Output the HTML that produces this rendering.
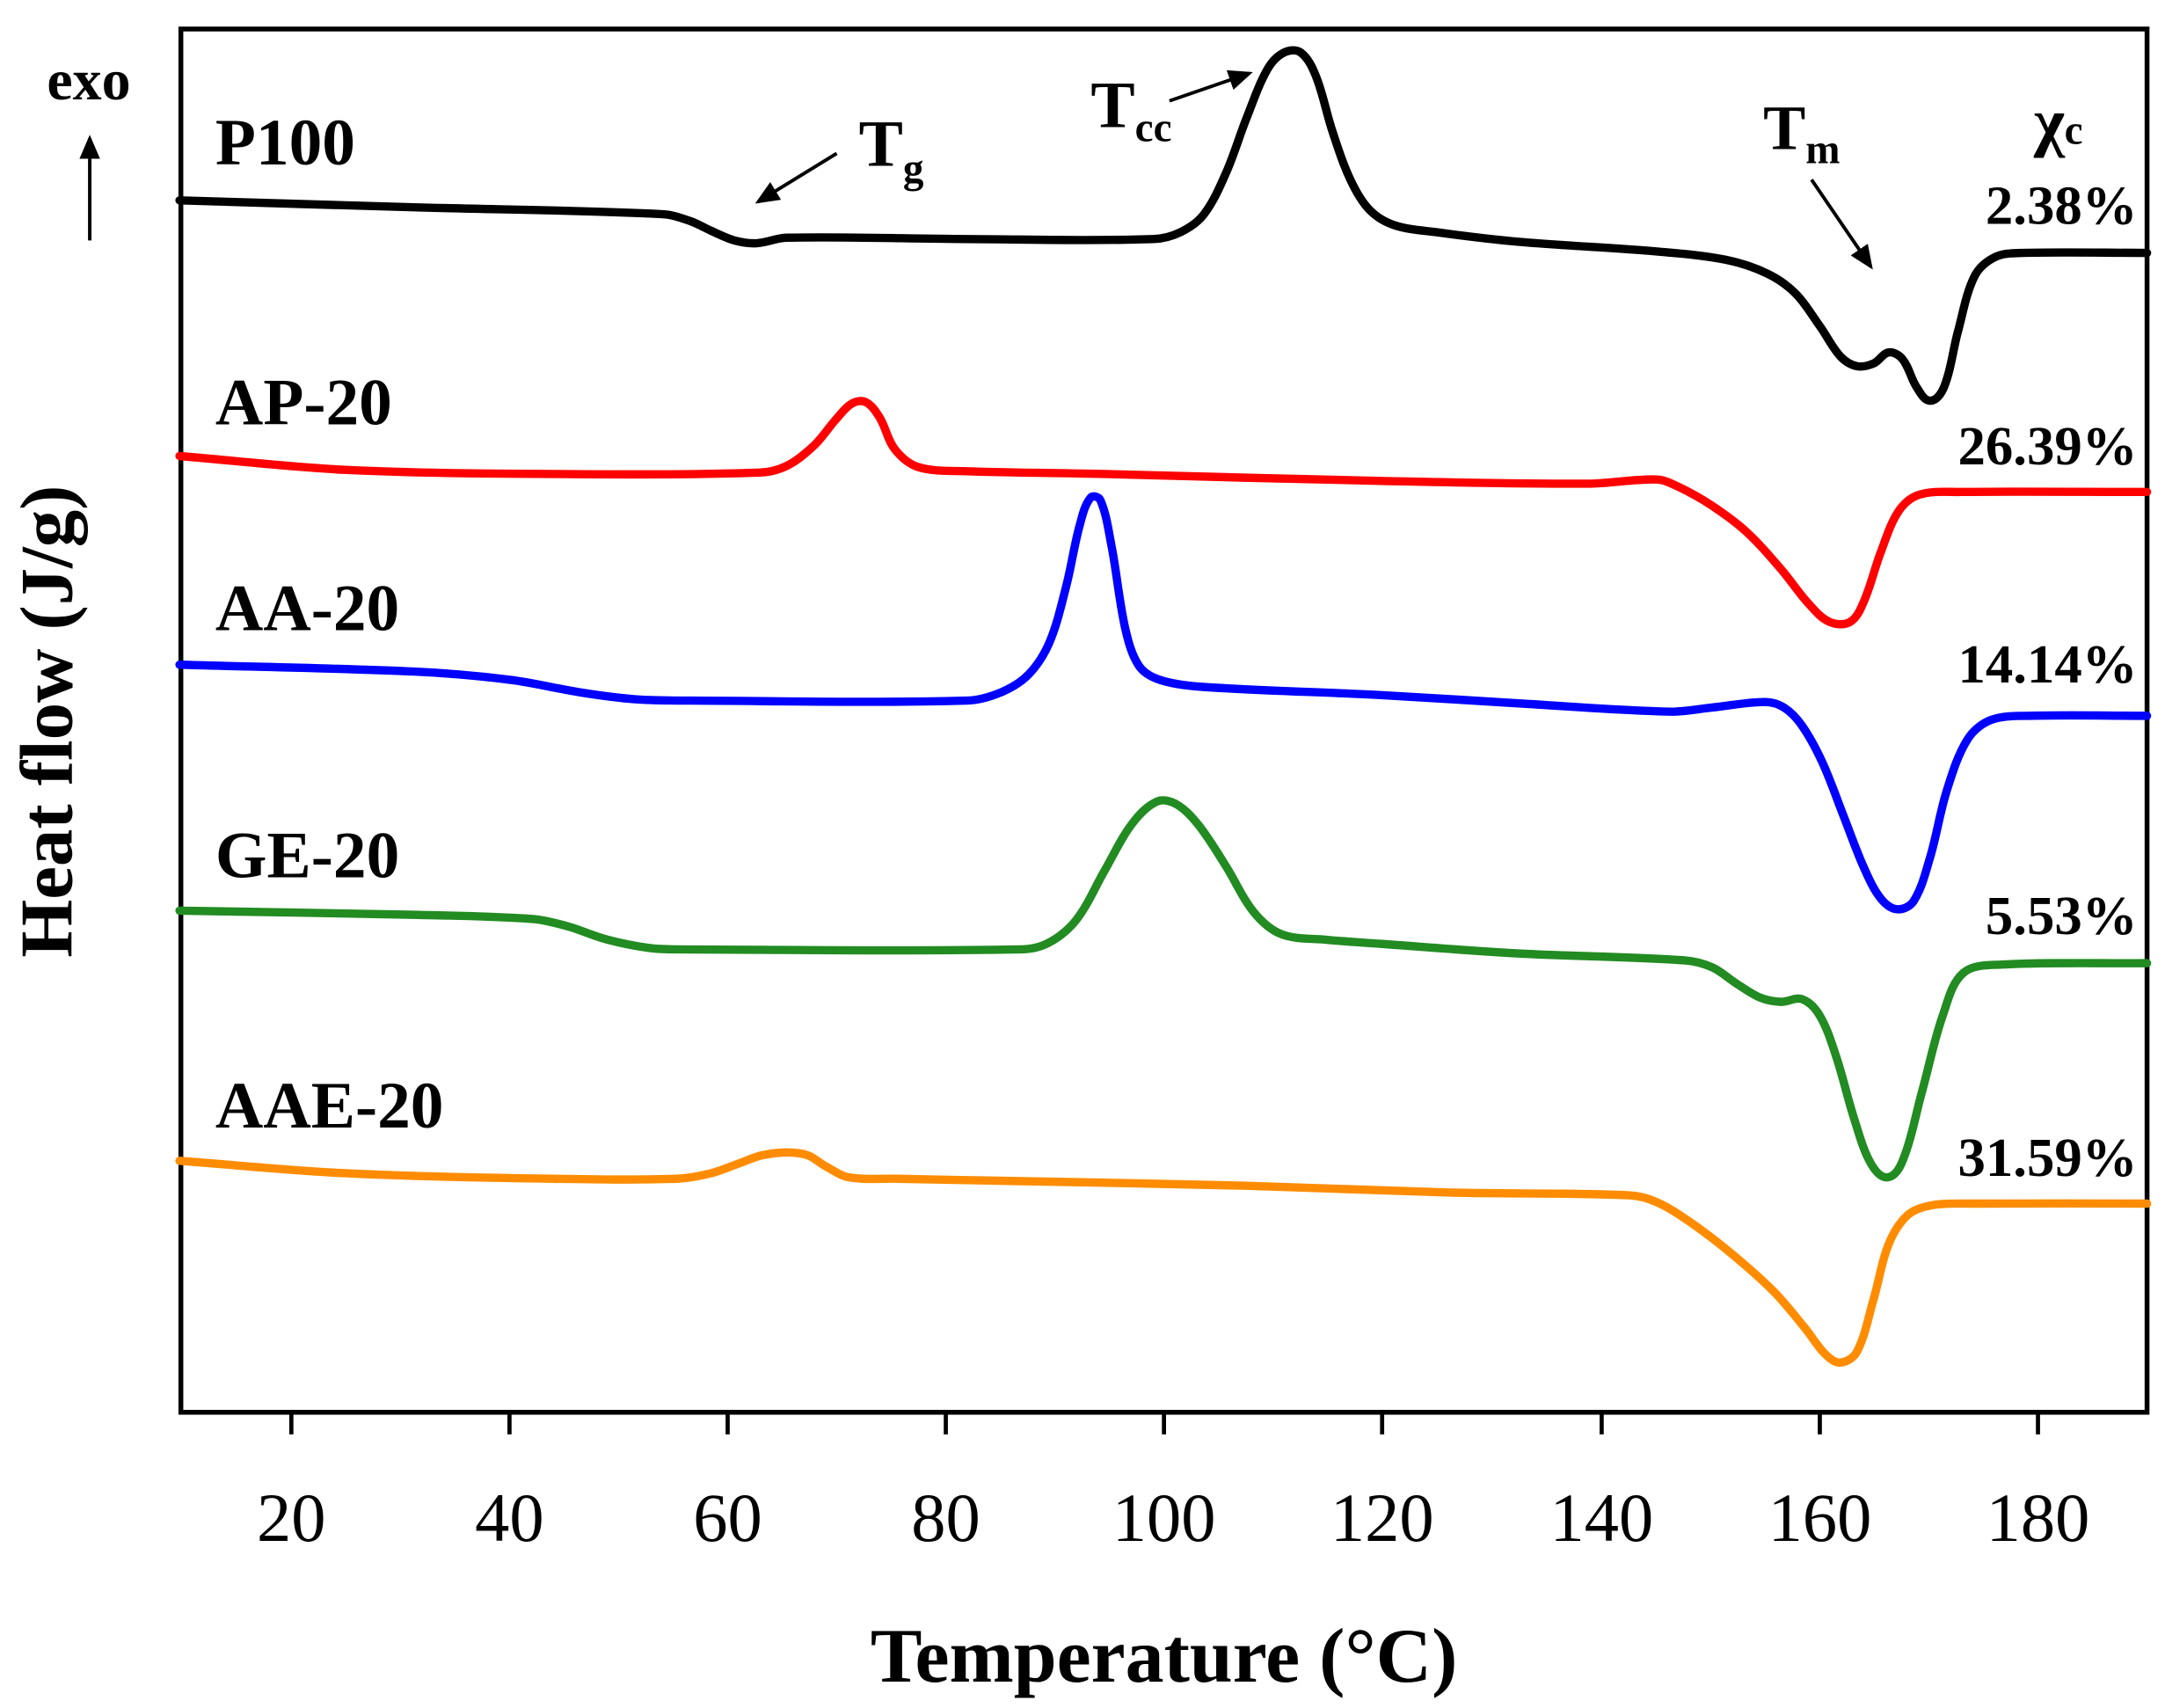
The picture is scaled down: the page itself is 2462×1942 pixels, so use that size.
<!DOCTYPE html>
<html><head><meta charset="utf-8"><style>html,body{margin:0;padding:0;background:#fff}svg{display:block}</style></head>
<body>
<svg id="s" width="2462" height="1942" viewBox="0 0 1568 1236" preserveAspectRatio="none" xmlns="http://www.w3.org/2000/svg" font-family="'Liberation Serif', serif">
<defs><marker id="ah" markerWidth="8" markerHeight="8" refX="6" refY="4" orient="auto" markerUnits="strokeWidth"><path d="M0,1 L7,4 L0,7 Z" fill="#000"/></marker></defs>
<rect x="131" y="21" width="1424" height="1001" fill="none" stroke="#000" stroke-width="3.5"/>
<g stroke="#000" stroke-width="3">
<line x1="211" y1="1022" x2="211" y2="1038"/><line x1="369" y1="1022" x2="369" y2="1038"/><line x1="527" y1="1022" x2="527" y2="1038"/><line x1="685" y1="1022" x2="685" y2="1038"/><line x1="843" y1="1022" x2="843" y2="1038"/><line x1="1001" y1="1022" x2="1001" y2="1038"/><line x1="1160" y1="1022" x2="1160" y2="1038"/><line x1="1318" y1="1022" x2="1318" y2="1038"/><line x1="1476" y1="1022" x2="1476" y2="1038"/>
</g>
<g font-size="50" text-anchor="middle">
<text x="211" y="1115">20</text><text x="369" y="1115">40</text><text x="527" y="1115">60</text><text x="685" y="1115">80</text><text x="843" y="1115">100</text><text x="1001" y="1115">120</text><text x="1160" y="1115">140</text><text x="1318" y="1115">160</text><text x="1476" y="1115">180</text>
</g>
<text x="843" y="1217" font-size="56" font-weight="bold" text-anchor="middle">Temperature (°C)</text>
<text transform="translate(52,522) rotate(-90)" font-size="54" font-weight="bold" text-anchor="middle">Heat flow (J/g)</text>
<g fill="none" stroke-width="6" stroke-linejoin="round" stroke-linecap="round">
<polyline class="c" stroke="#000" points="130,145 300,150 480,155 500,160 515,167 532,174 548,176 570,172 700,173 835,173 855,168 872,155 888,125 903,85 918,50 930,38 942,38 953,55 965,95 978,130 992,152 1010,163 1040,168 1100,175 1200,182 1250,188 1280,198 1300,212 1318,236 1333,258 1345,265 1357,263 1368,255 1378,260 1388,280 1398,290 1408,280 1418,240 1430,200 1445,186 1465,183 1555,183"/>
<polyline class="c" stroke="#ff0000" points="130,330 250,340 400,343 550,342 570,337 590,322 605,304 617,292 627,291 637,302 648,325 665,338 700,341 800,343 1000,348 1150,350 1200,347 1215,352 1240,366 1265,385 1290,412 1310,437 1325,450 1340,450 1350,435 1362,400 1375,370 1390,358 1420,356 1555,356"/>
<polyline class="c" stroke="#0000ff" points="130,481 300,486 370,492 420,501 460,506 500,507 700,507 725,501 745,488 760,465 772,425 782,380 790,360 797,362 805,395 815,455 825,482 840,492 870,497 1000,503 1100,509 1210,515 1240,512 1278,508 1292,512 1305,525 1320,552 1335,590 1350,628 1362,650 1374,658 1386,652 1398,620 1410,572 1425,535 1442,521 1470,518 1555,518"/>
<polyline class="c" stroke="#228b22" points="130,659 300,662 385,665 410,670 440,680 470,686 490,687 740,687 760,682 780,665 800,630 820,596 838,580 852,582 868,597 888,627 908,660 928,676 960,680 1000,683 1100,690 1220,695 1240,700 1258,712 1275,722 1290,725 1305,723 1318,735 1330,765 1343,810 1355,842 1367,852 1378,840 1392,790 1407,735 1422,704 1450,698 1555,697"/>
<polyline class="c" stroke="#ff8c00" points="130,840 250,849 400,853 490,853 515,849 535,842 552,836 570,834 585,836 598,844 615,852 650,853 700,854 900,858 1050,863 1180,865 1200,870 1225,885 1255,908 1285,935 1308,962 1322,980 1333,986 1345,978 1357,940 1368,900 1382,879 1400,872 1430,871 1555,871"/>
</g>
<g font-weight="bold" font-size="48">
<text x="156" y="119">P100</text><text x="156" y="307">AP-20</text><text x="156" y="456">AA-20</text><text x="156" y="635">GE-20</text><text x="156" y="816">AAE-20</text>
</g>
<g font-weight="bold" font-size="40" text-anchor="end">
<text x="1548" y="162">2.38%</text><text x="1548" y="336">26.39%</text><text x="1548" y="494">14.14%</text><text x="1548" y="676">5.53%</text><text x="1548" y="851">31.59%</text>
</g>
<text x="1473" y="104" font-size="48" font-weight="bold">χ<tspan font-size="30">c</tspan></text>
<text x="622" y="120" font-size="48" font-weight="bold">T<tspan font-size="30" dy="12">g</tspan></text>
<text x="790" y="92" font-size="48" font-weight="bold">T<tspan font-size="30" dy="10">cc</tspan></text>
<text x="1277" y="108" font-size="46" font-weight="bold">T<tspan font-size="30" dy="10">m</tspan></text>
<text x="34" y="72" font-size="42" font-weight="bold">exo</text>
<g stroke="#000" stroke-width="2.5">
<line x1="65" y1="174" x2="65" y2="100" marker-end="url(#ah)"/>
<line x1="606" y1="111" x2="549" y2="146" marker-end="url(#ah)"/>
<line x1="847" y1="73" x2="905" y2="53" marker-end="url(#ah)"/>
<line x1="1312" y1="130" x2="1355" y2="193" marker-end="url(#ah)"/>
</g>
</svg>
<script>
(function(){
var ns="http://www.w3.org/2000/svg";
function tan(p,i){
 var a=p[i-1]||p[i],b=p[i+1]||p[i];
 var dx=b[0]-a[0],dy=b[1]-a[1],l=Math.sqrt(dx*dx+dy*dy)||1;
 return [dx/l,dy/l];
}
document.querySelectorAll("polyline.c").forEach(function(pl){
 var p=pl.getAttribute("points").trim().split(/\s+/).map(function(s){return s.split(",").map(Number);});
 var d="M"+p[0][0]+","+p[0][1];
 for(var i=0;i<p.length-1;i++){
  var p1=p[i],p2=p[i+1];
  var L=Math.sqrt(Math.pow(p2[0]-p1[0],2)+Math.pow(p2[1]-p1[1],2))/3;
  var t1=tan(p,i),t2=tan(p,i+1);
  var c1x=p1[0]+t1[0]*L,c1y=p1[1]+t1[1]*L;
  var c2x=p2[0]-t2[0]*L,c2y=p2[1]-t2[1]*L;
  d+=" C"+c1x.toFixed(1)+","+c1y.toFixed(1)+" "+c2x.toFixed(1)+","+c2y.toFixed(1)+" "+p2[0]+","+p2[1];
 }
 var path=document.createElementNS(ns,"path");
 path.setAttribute("d",d);path.setAttribute("stroke",pl.getAttribute("stroke"));
 pl.parentNode.replaceChild(path,pl);
});
})();
</script>
</body></html>
